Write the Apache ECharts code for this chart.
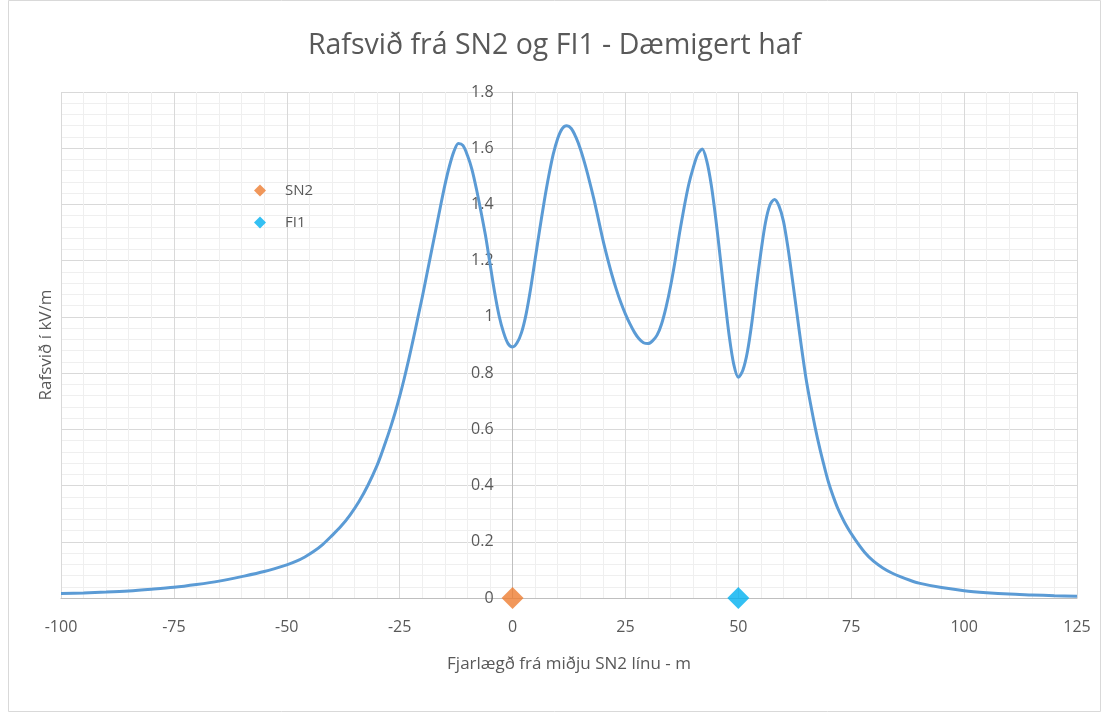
<!DOCTYPE html>
<html>
<head>
<meta charset="utf-8">
<script src="https://cdn.jsdelivr.net/npm/echarts@6/dist/echarts.min.js"></script>
<style>
html,body{margin:0;padding:0;background:#fff;}
#c{width:1109px;height:713px;}
</style>
</head>
<body>
<div id="c"></div>
<script>
// Distance from SN2 line centre (m)
const distances = [-100,-95,-90,-85,-80,-75,-70,-65,-60,-55,-50,-48,-46,-44,-42,-40,-38,-36,-34,-32,
  -30,-29,-28,-27,-26,-25,-24,-23,-22,-21,-20,-19,-18,-17,-16,-15,-14,-13,-12,-11,-10,-9,-8,-7,-6,-5,-4,-3,-2,-1,
  0,1,2,3,4,5,6,7,8,9,10,11,12,13,14,15,16,17,18,19,20,21,22,23,24,25,26,27,28,29,30,31,32,33,34,35,36,37,38,39,
  40,41,42,43,44,45,46,47,48,49,50,51,52,53,54,55,56,57,58,59,60,61,62,63,64,65,66,67,68,69,70,71,72,
  74,76,78,80,82,84,86,88,90,95,100,105,110,115,120,125];
// Electric field (kV/m)
const field = [0.016,0.018,0.021,0.025,0.031,0.038,0.048,0.060,0.076,0.094,0.118,0.130,0.146,0.166,0.191,0.222,0.255,0.295,0.343,0.402,
  0.472,0.514,0.56,0.608,0.66,0.717,0.78,0.848,0.92,0.995,1.07,1.15,1.23,1.31,1.39,1.468,1.535,1.588,1.617,1.61,1.575,1.525,1.455,1.375,1.29,1.19,1.09,1.005,0.945,0.905,
  0.893,0.908,0.945,1.01,1.10,1.205,1.31,1.41,1.50,1.578,1.635,1.67,1.68,1.67,1.64,1.598,1.545,1.485,1.42,1.348,1.275,1.21,1.15,1.097,1.05,1.01,0.975,0.945,0.922,0.908,0.905,0.915,0.935,0.975,1.035,1.11,1.20,1.30,1.39,1.47,
  1.53,1.578,1.597,1.555,1.47,1.35,1.21,1.065,0.93,0.83,0.785,0.81,0.875,0.98,1.11,1.23,1.335,1.398,1.418,1.395,1.34,1.245,1.13,1.01,0.89,0.78,0.69,0.608,0.535,0.47,0.41,0.362,0.32,
  0.255,0.205,0.162,0.130,0.107,0.089,0.075,0.063,0.053,0.037,0.026,0.019,0.014,0.011,0.008,0.006];
// Line positions
const sn2Point = [0, 0];
const fi1Point = [50, 0];
const xTicks = {min: -100, max: 125, interval: 25};
const yTicks = {min: 0, max: 1.8, interval: 0.2};

const curve = distances.map((d, i) => [d, field[i]]);
const font = '"Open Sans", "Noto Sans", sans-serif';
const textCol = '#595959';

const W = 1109, gridLeft = 61, gridRight = 32;
const plotW = W - gridLeft - gridRight;
const zeroOffset = plotW * (0 - xTicks.min) / (xTicks.max - xTicks.min);

const chart = echarts.init(document.getElementById('c'), null, {renderer: 'canvas'});
chart.setOption({
  animation: false,
  backgroundColor: '#fff',
  title: {
    text: 'Rafsvið frá SN2 og FI1 - Dæmigert haf',
    left: 'center', top: 26,
    textStyle: {fontFamily: font, fontSize: 28.5, fontWeight: 'normal', color: textCol}
  },
  legend: {
    data: ['SN2', 'FI1'],
    orient: 'vertical',
    left: 249, top: 178,
    itemWidth: 12, itemHeight: 12, itemGap: 17,
    icon: 'diamond',
    textStyle: {fontFamily: font, fontSize: 15, color: textCol, padding: [0, 0, 0, 14]}
  },
  grid: {left: gridLeft, right: gridRight, top: 92, bottom: 115, containLabel: false, outerBoundsMode: 'none'},
  xAxis: {
    type: 'value',
    min: xTicks.min, max: xTicks.max, interval: xTicks.interval,
    name: 'Fjarlægð frá miðju SN2 línu - m',
    nameLocation: 'middle', nameGap: 58,
    nameTextStyle: {fontFamily: font, fontSize: 17, color: textCol},
    axisLine: {onZero: true, lineStyle: {color: '#bfbfbf', width: 1}},
    axisTick: {show: false},
    axisLabel: {fontFamily: font, fontSize: 16, color: textCol, margin: 21},
    splitLine: {show: true, lineStyle: {color: '#d9d9d9', width: 1}},
    minorTick: {show: false, splitNumber: 5},
    minorSplitLine: {show: true, lineStyle: {color: '#efefef', width: 1}}
  },
  yAxis: {
    type: 'value',
    min: yTicks.min, max: yTicks.max, interval: yTicks.interval,
    offset: -zeroOffset,
    name: 'Rafsvið í kV/m',
    nameLocation: 'middle', nameGap: zeroOffset + 6,
    nameRotate: 90,
    nameTextStyle: {fontFamily: font, fontSize: 17, color: textCol},
    axisLine: {show: true, onZero: false, lineStyle: {color: '#bfbfbf', width: 1}},
    axisTick: {show: false},
    axisLabel: {fontFamily: font, fontSize: 16, color: textCol, margin: 19,
      formatter: v => String(Math.round(v * 10) / 10)},
    splitLine: {show: true, lineStyle: {color: '#d9d9d9', width: 1}},
    minorTick: {show: false, splitNumber: 5},
    minorSplitLine: {show: true, lineStyle: {color: '#efefef', width: 1}}
  },
  series: [
    {
      name: 'Rafsvið',
      type: 'line',
      data: curve,
      smooth: 0.3,
      symbol: 'none',
      lineStyle: {color: '#5B9BD5', width: 3},
      z: 3
    },
    {
      name: 'SN2', type: 'scatter', data: [sn2Point],
      symbol: 'diamond', symbolSize: 22,
      itemStyle: {color: '#ED7D31'}, z: 5
    },
    {
      name: 'FI1', type: 'scatter', data: [fi1Point],
      symbol: 'diamond', symbolSize: 22,
      itemStyle: {color: '#00B0F0'}, z: 5
    }
  ],
  graphic: [
    {type: 'rect', shape: {x: 8.5, y: 0.5, width: 1092, height: 711}, style: {fill: 'none', stroke: '#d9d9d9', lineWidth: 1}, silent: true}
  ]
});
</script>
</body>
</html>
